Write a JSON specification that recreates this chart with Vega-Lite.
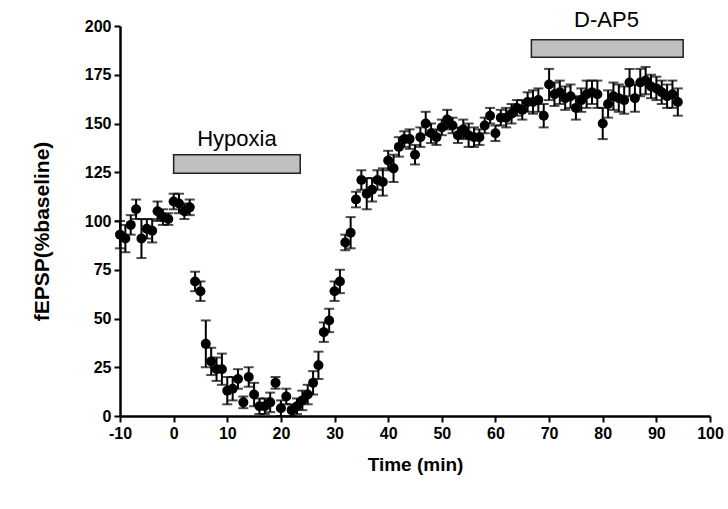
{
  "$schema": "https://vega.github.io/schema/vega-lite/v6.json",
  "width": 590,
  "height": 390,
  "autosize": "none",
  "padding": {"left": 120, "top": 26, "right": 18, "bottom": 93},
  "background": "white",
  "config": {
    "view": {"stroke": null},
    "font": "Liberation Sans"
  },
  "datasets": {
    "pts": [
      {"t": -10, "v": 93, "e": 7}, {"t": -9, "v": 91, "e": 7}, {"t": -8, "v": 98, "e": 5}, {"t": -7, "v": 106, "e": 5},
      {"t": -6, "v": 91, "e": 10}, {"t": -5, "v": 96, "e": 5}, {"t": -4, "v": 95, "e": 6}, {"t": -3, "v": 105, "e": 5},
      {"t": -2, "v": 102, "e": 4}, {"t": -1, "v": 101, "e": 3}, {"t": 0, "v": 110, "e": 4}, {"t": 1, "v": 109, "e": 5},
      {"t": 2, "v": 105, "e": 4}, {"t": 3, "v": 107, "e": 4}, {"t": 4, "v": 69, "e": 5}, {"t": 5, "v": 64, "e": 5},
      {"t": 6, "v": 37, "e": 12}, {"t": 7, "v": 28, "e": 7}, {"t": 8, "v": 24, "e": 6}, {"t": 9, "v": 24, "e": 8},
      {"t": 10, "v": 13, "e": 7}, {"t": 11, "v": 14, "e": 6}, {"t": 12, "v": 19, "e": 5}, {"t": 13, "v": 7, "e": 3},
      {"t": 14, "v": 20, "e": 5}, {"t": 15, "v": 11, "e": 6}, {"t": 16, "v": 5, "e": 4}, {"t": 17, "v": 5, "e": 4},
      {"t": 18, "v": 7, "e": 5}, {"t": 19, "v": 17, "e": 3}, {"t": 20, "v": 4, "e": 4}, {"t": 21, "v": 10, "e": 4},
      {"t": 22, "v": 3, "e": 3}, {"t": 23, "v": 5, "e": 4}, {"t": 24, "v": 8, "e": 5}, {"t": 25, "v": 11, "e": 5},
      {"t": 26, "v": 17, "e": 6}, {"t": 27, "v": 26, "e": 7}, {"t": 28, "v": 43, "e": 5}, {"t": 29, "v": 49, "e": 6},
      {"t": 30, "v": 64, "e": 5}, {"t": 31, "v": 69, "e": 6}, {"t": 32, "v": 89, "e": 4}, {"t": 33, "v": 94, "e": 8},
      {"t": 34, "v": 111, "e": 4}, {"t": 35, "v": 121, "e": 5}, {"t": 36, "v": 114, "e": 8}, {"t": 37, "v": 116, "e": 6},
      {"t": 38, "v": 121, "e": 5}, {"t": 39, "v": 120, "e": 7}, {"t": 40, "v": 131, "e": 5}, {"t": 41, "v": 127, "e": 7},
      {"t": 42, "v": 138, "e": 5}, {"t": 43, "v": 142, "e": 4}, {"t": 44, "v": 142, "e": 5}, {"t": 45, "v": 134, "e": 5},
      {"t": 46, "v": 143, "e": 5}, {"t": 47, "v": 150, "e": 6}, {"t": 48, "v": 145, "e": 5}, {"t": 49, "v": 143, "e": 4},
      {"t": 50, "v": 148, "e": 4}, {"t": 51, "v": 152, "e": 5}, {"t": 52, "v": 149, "e": 4}, {"t": 53, "v": 144, "e": 4},
      {"t": 54, "v": 147, "e": 5}, {"t": 55, "v": 144, "e": 6}, {"t": 56, "v": 143, "e": 5}, {"t": 57, "v": 143, "e": 4},
      {"t": 58, "v": 149, "e": 4}, {"t": 59, "v": 154, "e": 4}, {"t": 60, "v": 145, "e": 4}, {"t": 61, "v": 153, "e": 4},
      {"t": 62, "v": 153, "e": 5}, {"t": 63, "v": 155, "e": 5}, {"t": 64, "v": 158, "e": 4}, {"t": 65, "v": 157, "e": 5},
      {"t": 66, "v": 161, "e": 5}, {"t": 67, "v": 161, "e": 6}, {"t": 68, "v": 162, "e": 6}, {"t": 69, "v": 154, "e": 6},
      {"t": 70, "v": 170, "e": 8}, {"t": 71, "v": 165, "e": 6}, {"t": 72, "v": 166, "e": 6}, {"t": 73, "v": 163, "e": 6},
      {"t": 74, "v": 164, "e": 6}, {"t": 75, "v": 158, "e": 6}, {"t": 76, "v": 162, "e": 6}, {"t": 77, "v": 165, "e": 7},
      {"t": 78, "v": 166, "e": 6}, {"t": 79, "v": 165, "e": 7}, {"t": 80, "v": 150, "e": 8}, {"t": 81, "v": 160, "e": 7},
      {"t": 82, "v": 164, "e": 7}, {"t": 83, "v": 163, "e": 7}, {"t": 84, "v": 162, "e": 7}, {"t": 85, "v": 171, "e": 7},
      {"t": 86, "v": 163, "e": 7}, {"t": 87, "v": 171, "e": 7}, {"t": 88, "v": 172, "e": 7}, {"t": 89, "v": 169, "e": 6},
      {"t": 90, "v": 168, "e": 6}, {"t": 91, "v": 166, "e": 6}, {"t": 92, "v": 164, "e": 6}, {"t": 93, "v": 165, "e": 7},
      {"t": 94, "v": 161, "e": 7}
    ],
    "bars": [
      {"label": "Hypoxia", "x1": 0, "x2": 23.6, "y1": 124.5, "y2": 134, "tx": 11.8, "ty": 142},
      {"label": "D-AP5", "x1": 66.7, "x2": 95, "y1": 184, "y2": 193, "tx": 80.7, "ty": 203}
    ]
  },
  "layer": [
    {
      "data": {"name": "bars"},
      "mark": {"type": "rect", "fill": "#c0c0c0", "stroke": "#222222", "strokeWidth": 1.5},
      "encoding": {
        "x": {"field": "x1", "type": "quantitative", "title": "Time (min)", "scale": {"domain": [-10, 100], "nice": false}},
        "x2": {"field": "x2"},
        "y": {"field": "y1", "type": "quantitative", "title": "fEPSP(%baseline)", "scale": {"domain": [0, 200], "nice": false}},
        "y2": {"field": "y2"}
      }
    },
    {
      "data": {"name": "bars"},
      "mark": {"type": "text", "fontSize": 22, "font": "Liberation Sans", "color": "black", "baseline": "middle", "align": "center"},
      "encoding": {
        "x": {"field": "tx", "type": "quantitative", "title": "Time (min)"},
        "y": {"field": "ty", "type": "quantitative", "title": "fEPSP(%baseline)"},
        "text": {"field": "label"}
      }
    },
    {
      "data": {"name": "pts"},
      "mark": {"type": "errorbar", "ticks": {"size": 10, "thickness": 2, "color": "black"}, "thickness": 2, "color": "black"},
      "encoding": {
        "x": {"field": "t", "type": "quantitative", "title": "Time (min)"},
        "y": {"field": "v", "type": "quantitative", "title": "fEPSP(%baseline)"},
        "yError": {"field": "e"}
      }
    },
    {
      "data": {"name": "pts"},
      "mark": {"type": "point", "filled": true, "color": "black", "opacity": 1, "size": 100},
      "encoding": {
        "x": {
          "field": "t", "type": "quantitative", "title": "Time (min)",
          "scale": {"domain": [-10, 100], "nice": false},
          "axis": {
            "values": [-10, 0, 10, 20, 30, 40, 50, 60, 70, 80, 90, 100],
            "labelExpr": "replace(datum.label, '\u2212', '-')",
            "labelFlush": false,
            "grid": false, "domainColor": "black", "domainWidth": 2.5, "tickColor": "black", "tickWidth": 2, "tickSize": 6,
            "labelFont": "Liberation Sans", "labelFontSize": 16, "labelFontWeight": "bold", "labelColor": "black", "labelPadding": 3,
            "titleFont": "Liberation Sans", "titleFontSize": 19, "titleFontWeight": "bold", "titleColor": "black", "titlePadding": 14
          }
        },
        "y": {
          "field": "v", "type": "quantitative", "title": "fEPSP(%baseline)",
          "scale": {"domain": [0, 200], "nice": false},
          "axis": {
            "values": [0, 25, 50, 75, 100, 125, 150, 175, 200],
            "labelFlush": false,
            "grid": false, "domainColor": "black", "domainWidth": 2.5, "tickColor": "black", "tickWidth": 2, "tickSize": 6,
            "labelFont": "Liberation Sans", "labelFontSize": 16, "labelFontWeight": "bold", "labelColor": "black", "labelPadding": 3,
            "titleFont": "Liberation Sans", "titleFontSize": 21, "titleFontWeight": "bold", "titleColor": "black", "titlePadding": 32,
            "titleY": 205
          }
        }
      }
    }
  ]
}
